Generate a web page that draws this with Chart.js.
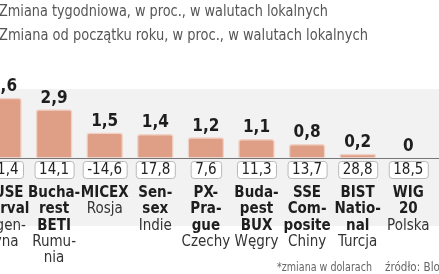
<!DOCTYPE html>
<html>
<head>
<meta charset="utf-8">
<script src="https://cdn.jsdelivr.net/npm/chart.js@4.4.0/dist/chart.umd.min.js"></script>
<style>
  html, body { margin: 0; padding: 0; background: #fff; overflow: hidden; }
  #wrap { position: relative; width: 439px; height: 274px; }
</style>
</head>
<body>
<div id="wrap"><canvas id="chart" width="439" height="274"></canvas></div>
<script>
// indeksy gieldowe
const indexNames = [
  ['BUSE', 'Merval'],
  ['Bucha-', 'rest', 'BETI'],
  ['MICEX'],
  ['Sen-', 'sex'],
  ['PX-', 'Pra-', 'gue'],
  ['Buda-', 'pest', 'BUX'],
  ['SSE', 'Com-', 'posite'],
  ['BIST', 'Natio-', 'nal'],
  ['WIG', '20']
];
const countries = [
  ['Argen-', 'tyna'],
  ['Rumu-', 'nia'],
  ['Rosja'],
  ['Indie'],
  ['Czechy'],
  ['Węgry'],
  ['Chiny'],
  ['Turcja'],
  ['Polska']
];
const weekly = [3.6, 2.9, 1.5, 1.4, 1.2, 1.1, 0.8, 0.2, 0];
const ytd = [41.4, 14.1, -14.6, 17.8, 7.6, 11.3, 13.7, 28.8, 18.5];

const titleLines = [
  'Zmiana tygodniowa, w proc., w walutach lokalnych',
  'Zmiana od początku roku, w proc., w walutach lokalnych'
];
const note = '*zmiana w dolarach';
const source = 'źródło: Bloomberg';

const fmt = v => String(v).replace('.', ',');
const NARROW = "'Liberation Sans Narrow', 'DejaVu Sans Condensed', sans-serif";
const BOLD = 'bold 15px ' + NARROW;
const REG = '15px ' + NARROW;

function roundRect(ctx, x, y, w, h, r) {
  ctx.beginPath();
  ctx.moveTo(x + r, y);
  ctx.lineTo(x + w - r, y);
  ctx.quadraticCurveTo(x + w, y, x + w, y + r);
  ctx.lineTo(x + w, y + h - r);
  ctx.quadraticCurveTo(x + w, y + h, x + w - r, y + h);
  ctx.lineTo(x + r, y + h);
  ctx.quadraticCurveTo(x, y + h, x, y + h - r);
  ctx.lineTo(x, y + r);
  ctx.quadraticCurveTo(x, y, x + r, y);
  ctx.closePath();
}

const decor = {
  id: 'decor',
  beforeDatasetsDraw(chart) {
    const ctx = chart.ctx;
    ctx.save();
    ctx.fillStyle = '#f2f2f2';
    ctx.fillRect(0, 89, chart.width, 137);
    ctx.restore();
  },
  afterDatasetsDraw(chart) {
    const ctx = chart.ctx;
    const x = chart.scales.x, y = chart.scales.y;
    const base = y.getPixelForValue(0);
    ctx.save();

    // linia bazowa
    ctx.strokeStyle = '#777';
    ctx.lineWidth = 1;
    ctx.beginPath();
    ctx.moveTo(0, Math.round(base) + 0.5);
    ctx.lineTo(chart.width, Math.round(base) + 0.5);
    ctx.stroke();

    weekly.forEach((v, i) => {
      const cx = x.getPixelForValue(i);
      // wartosc tygodniowa nad slupkiem
      ctx.fillStyle = '#1e1e1e';
      ctx.font = 'bold 17px ' + NARROW;
      ctx.textAlign = 'center';
      ctx.textBaseline = 'alphabetic';
      ctx.fillText(fmt(v), cx, y.getPixelForValue(v) - 7);

      // ramka z wartoscia od poczatku roku
      ctx.font = REG;
      const t = fmt(ytd[i]);
      const w = ctx.measureText(t).width + 9;
      roundRect(ctx, cx - w / 2 + 0.5, 161.5, w, 17, 3);
      ctx.fillStyle = '#fff';
      ctx.fill();
      ctx.strokeStyle = '#b9b9b9';
      ctx.lineWidth = 1;
      ctx.stroke();
      ctx.fillStyle = '#222';
      ctx.textBaseline = 'middle';
      ctx.fillText(t, cx, 170.5);

      // nazwa indeksu i kraj
      let ly = 193;
      ctx.font = BOLD;
      ctx.fillStyle = '#1e1e1e';
      indexNames[i].forEach(s => { ctx.fillText(s, cx, ly); ly += 16.4; });
      ctx.font = REG;
      ctx.fillStyle = '#333';
      countries[i].forEach(s => { ctx.fillText(s, cx, ly); ly += 16.4; });
    });

    // tytuly
    ctx.textAlign = 'left';
    ctx.textBaseline = 'middle';
    ctx.fillStyle = '#555';
    ctx.font = '16.5px ' + NARROW;
    ctx.fillText(titleLines[0], -1, 12, 329);
    ctx.fillText(titleLines[1], -1, 36, 369);

    // stopka
    ctx.font = '13px ' + NARROW;
    ctx.fillStyle = '#666';
    ctx.fillText(note, 277, 268, 95);
    ctx.fillText(source, 385, 268, 95);
    ctx.restore();
  }
};

new Chart(document.getElementById('chart'), {
  type: 'bar',
  data: {
    datasets: [{
      label: 'Zmiana tygodniowa',
      data: weekly.map((v, i) => ({ x: i, y: v })),
      backgroundColor: '#df9e86',
      borderColor: '#f0d2c6',
      borderWidth: 1.5,
      borderRadius: 3,
      borderSkipped: 'bottom',
      barThickness: 36
    }]
  },
  options: {
    responsive: false,
    animation: false,
    layout: { padding: 0 },
    plugins: { legend: { display: false }, tooltip: { enabled: false } },
    scales: {
      x: { type: 'linear', min: -0.069, max: 8.607, offset: false, display: false },
      y: { min: -7.06, max: 9.545, display: false }
    }
  },
  plugins: [decor]
});
</script>
</body>
</html>
